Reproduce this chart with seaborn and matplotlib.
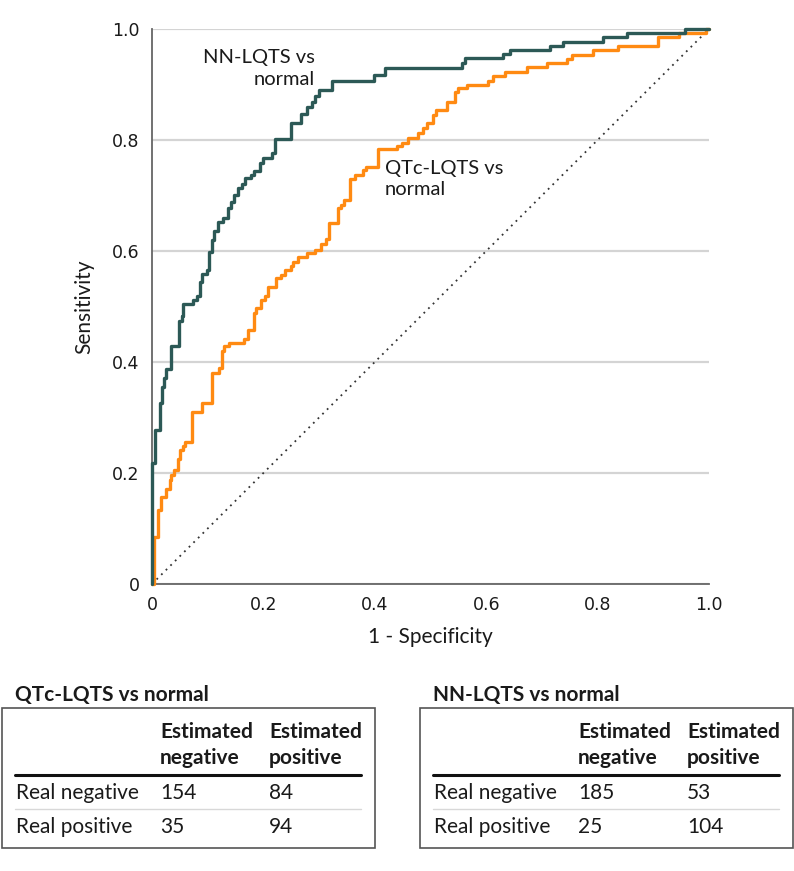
import matplotlib
matplotlib.use("Agg")
import matplotlib.pyplot as plt
from matplotlib.patches import Rectangle
from matplotlib.lines import Line2D
import seaborn as sns
import pandas as pd

# ---------------- data ----------------
nn_fpr = [0, 0, 0.005, 0.014, 0.018, 0.021, 0.026, 0.035, 0.048, 0.053, 0.056, 0.074,
          0.081, 0.086, 0.090, 0.099, 0.102, 0.107, 0.111, 0.118, 0.127, 0.136, 0.142,
          0.148, 0.154, 0.161, 0.167, 0.178, 0.184, 0.193, 0.199, 0.215, 0.220, 0.249,
          0.268, 0.279, 0.287, 0.293, 0.299, 0.323, 0.399, 0.418, 0.556, 0.562, 0.631,
          0.643, 0.715, 0.738, 0.810, 0.852, 0.957, 1.0]
nn_tpr = [0, 0.218, 0.277, 0.326, 0.355, 0.371, 0.387, 0.428, 0.473, 0.482, 0.504, 0.512,
          0.519, 0.545, 0.559, 0.566, 0.599, 0.620, 0.636, 0.652, 0.659, 0.677, 0.689,
          0.701, 0.713, 0.721, 0.731, 0.737, 0.744, 0.758, 0.767, 0.776, 0.801, 0.830,
          0.847, 0.860, 0.869, 0.879, 0.890, 0.907, 0.918, 0.930, 0.938, 0.947, 0.955,
          0.962, 0.970, 0.977, 0.985, 0.992, 1.0, 1.0]

qtc_fpr = [0, 0.004, 0.010, 0.017, 0.026, 0.032, 0.035, 0.040, 0.046, 0.050, 0.056, 0.060,
           0.071, 0.072, 0.089, 0.107, 0.121, 0.126, 0.130, 0.139, 0.165, 0.172, 0.183,
           0.187, 0.195, 0.202, 0.209, 0.223, 0.231, 0.239, 0.249, 0.253, 0.262, 0.279,
           0.292, 0.304, 0.313, 0.318, 0.334, 0.339, 0.344, 0.355, 0.364, 0.379, 0.385,
           0.406, 0.439, 0.448, 0.460, 0.478, 0.486, 0.493, 0.505, 0.510, 0.529, 0.544,
           0.550, 0.565, 0.604, 0.613, 0.634, 0.673, 0.709, 0.745, 0.754, 0.792, 0.837,
           0.909, 0.947, 0.995, 1.0]
qtc_tpr = [0, 0.085, 0.133, 0.157, 0.172, 0.187, 0.196, 0.205, 0.226, 0.241, 0.249, 0.255,
           0.263, 0.310, 0.326, 0.380, 0.389, 0.419, 0.428, 0.434, 0.441, 0.458, 0.488,
           0.497, 0.512, 0.519, 0.535, 0.551, 0.557, 0.565, 0.573, 0.581, 0.589, 0.597,
           0.602, 0.613, 0.622, 0.651, 0.677, 0.683, 0.691, 0.729, 0.737, 0.746, 0.752,
           0.783, 0.789, 0.795, 0.804, 0.813, 0.821, 0.830, 0.845, 0.854, 0.869, 0.886,
           0.893, 0.899, 0.907, 0.915, 0.923, 0.931, 0.938, 0.946, 0.954, 0.962, 0.969,
           0.985, 0.992, 1.0, 1.0]

tick_values = [0, 0.2, 0.4, 0.6, 0.8, 1.0]
tick_labels = ["0", "0.2", "0.4", "0.6", "0.8", "1.0"]

table_titles = ["QTc-LQTS vs normal", "NN-LQTS vs normal"]
col_labels = ["Estimated\nnegative", "Estimated\npositive"]
row_labels = ["Real negative", "Real positive"]
qtc_counts = [[154, 84], [35, 94]]
nn_counts = [[185, 53], [25, 104]]

# ---------------- style ----------------
sns.set_style("white")
plt.rcParams["font.family"] = ["DejaVu Sans"]
TXT = ["Lato", "DejaVu Sans"]
NN_COLOR = "#2c5956"
QTC_COLOR = "#ff8a12"

W, H = 794, 871
fig = plt.figure(figsize=(W / 100, H / 100), dpi=100)


def fx(px):
    return px / W


def fy(py):
    return 1 - py / H


ax = fig.add_axes([fx(152), fy(584), 557 / W, 555 / H])

ax.plot([0, 1], [0, 1], linestyle=(0, (1, 2.6)), color="#333333", lw=1.3, zorder=2)

df_q = pd.DataFrame({"fpr": qtc_fpr, "tpr": qtc_tpr})
df_n = pd.DataFrame({"fpr": nn_fpr, "tpr": nn_tpr})
sns.lineplot(data=df_q, x="fpr", y="tpr", ax=ax, estimator=None, sort=False,
             drawstyle="steps-post", color=QTC_COLOR, lw=2.4, zorder=3, clip_on=False)
sns.lineplot(data=df_n, x="fpr", y="tpr", ax=ax, estimator=None, sort=False,
             drawstyle="steps-post", color=NN_COLOR, lw=2.4, zorder=4, clip_on=False)

ax.set_xlim(0, 1)
ax.set_ylim(0, 1)
ax.set_xticks(tick_values)
ax.set_xticklabels(tick_labels)
ax.set_yticks(tick_values)
ax.set_yticklabels(tick_labels)
ax.tick_params(axis="both", length=5, width=1.1, color="#666666", labelsize=12.5,
               pad=4, labelcolor="#1a1a1a")
ax.yaxis.grid(True, color="#d4d4d4", lw=1.6)
ax.xaxis.grid(False)
ax.set_axisbelow(True)
for s in ["top", "right"]:
    ax.spines[s].set_visible(False)
for s in ["left", "bottom"]:
    ax.spines[s].set_color("#666666")
    ax.spines[s].set_linewidth(1.3)

ax.set_ylabel("Sensitivity", fontsize=15, family=TXT, color="#1a1a1a", labelpad=13)
ax.set_xlabel("1 - Specificity", fontsize=15, family=TXT, color="#1a1a1a", labelpad=9)

ax.text(0.292, 0.929, "NN-LQTS vs\nnormal", ha="right", va="center", fontsize=14.5,
        family=TXT, color="#1a1a1a", linespacing=1.3, multialignment="right")
ax.text(0.418, 0.730, "QTc-LQTS vs\nnormal", ha="left", va="center", fontsize=14.5,
        family=TXT, color="#1a1a1a", linespacing=1.3)

# ---------------- tables ----------------
def draw_table(dx, title, counts):
    fig.text(fx(dx + 15), fy(695), title, ha="left", va="center", fontsize=15,
             fontweight="bold", family=TXT, color="#1a1a1a")
    fig.add_artist(Rectangle((fx(dx + 2), fy(848)), 373 / W, 140 / H,
                             transform=fig.transFigure, fill=False,
                             edgecolor="#555555", lw=1.2))
    col_x = [dx + 160, dx + 269]
    for cx, lab in zip(col_x, col_labels):
        fig.text(fx(cx), fy(745), lab, ha="left", va="center", fontsize=15,
                 fontweight="bold", family=TXT, color="#1a1a1a", linespacing=1.35)
    fig.add_artist(Line2D([fx(dx + 15), fx(dx + 361)], [fy(775), fy(775)],
                          transform=fig.transFigure, color="#111111", lw=2.2))
    fig.add_artist(Line2D([fx(dx + 15), fx(dx + 361)], [fy(809), fy(809)],
                          transform=fig.transFigure, color="#d8d8d8", lw=1.0))
    row_y = [793, 827]
    for ry, rl, vals in zip(row_y, row_labels, counts):
        fig.text(fx(dx + 16), fy(ry), rl, ha="left", va="center", fontsize=15,
                 family=TXT, color="#1a1a1a")
        for cx, v in zip(col_x, vals):
            fig.text(fx(cx), fy(ry), str(v), ha="left", va="center", fontsize=15,
                     family=TXT, color="#1a1a1a")


draw_table(0, table_titles[0], qtc_counts)
draw_table(418, table_titles[1], nn_counts)

fig.savefig("out.png", dpi=100, facecolor="white")
